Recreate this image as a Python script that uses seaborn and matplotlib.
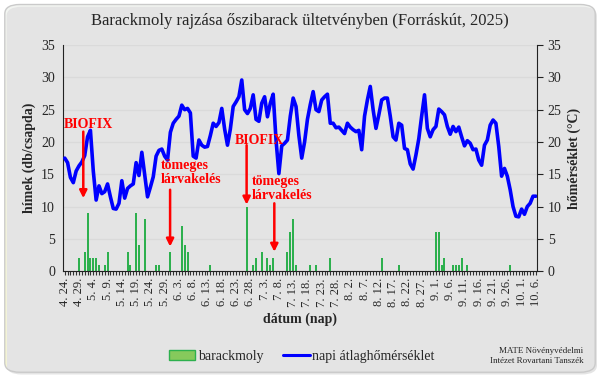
import numpy as np
import pandas as pd
import seaborn as sns
import matplotlib.pyplot as plt
from matplotlib.patches import FancyBboxPatch, Patch
from matplotlib.lines import Line2D

# days of the season, 2025.04.24 - 2025.10.06
dates = pd.date_range('2025-04-24', '2025-10-06', freq='D')
day_labels = [f'{d.month}. {d.day}.' for d in dates]

# trap catches (males / trap), only the days with a catch
catch_days = ['4.29', '5.1', '5.2', '5.3', '5.4', '5.5', '5.6', '5.8', '5.9',
              '5.16', '5.17', '5.19', '5.20', '5.22', '5.26', '5.27', '5.31',
              '6.4', '6.5', '6.6', '6.14', '6.27', '6.29', '6.30', '7.2', '7.4',
              '7.5', '7.6', '7.11', '7.12', '7.13', '7.14', '7.19', '7.21', '7.26',
              '8.13', '8.19', '9.1', '9.2', '9.3', '9.4', '9.7', '9.8', '9.9',
              '9.10', '9.12', '9.27']
catch_counts = [2, 3, 9, 2, 2, 2, 1, 1, 3,
                3, 1, 9, 4, 8, 1, 1, 3,
                7, 4, 3, 1, 10, 1, 2, 3, 2,
                1, 2, 3, 6, 8, 1, 1, 1, 2,
                2, 1, 6, 6, 1, 2, 1, 1, 1,
                2, 1, 1]

# daily mean temperature (°C)
temp = [17.5, 16.8, 14.5, 13.7, 15.5, 16.3, 16.9, 17.9, 20.8, 21.8,
        15.5, 11.0, 13.2, 12.0, 12.3, 13.5, 11.5, 9.7, 9.6, 10.5,
        14.0, 11.3, 12.8, 13.2, 13.5, 16.8, 14.8, 18.4, 15.0, 11.5,
        13.0, 14.6, 17.8, 18.7, 18.9, 17.8, 17.2, 21.5, 22.9, 23.5,
        24.0, 25.7, 25.0, 25.2, 24.5, 17.8, 17.5, 20.3, 19.5, 19.2,
        19.3, 21.0, 22.9, 22.4, 23.0, 25.2, 22.0, 19.5, 22.0, 25.5,
        26.2, 27.0, 29.6, 25.0, 24.4, 25.2, 27.3, 23.5, 23.2, 26.0,
        27.0, 23.9, 26.0, 27.4, 20.3, 15.1, 19.4, 19.8, 20.3, 24.0,
        26.8, 25.5, 21.0, 17.5, 20.0, 23.5, 25.8, 27.8, 25.0, 24.7,
        26.5, 27.0, 27.4, 22.9, 22.9, 22.2, 22.3, 21.8, 21.3, 22.9,
        22.3, 21.9, 21.6, 21.8, 18.8, 24.0, 26.5, 28.6, 25.0, 22.1,
        24.2, 26.5, 26.8, 26.8, 24.0, 20.8, 20.3, 22.9, 22.6, 19.0,
        18.8, 16.6, 15.8, 18.0, 20.5, 24.0, 27.3, 22.1, 20.8, 21.9,
        22.4, 25.1, 24.7, 24.2, 22.4, 21.2, 22.4, 21.6, 22.3, 20.8,
        19.4, 20.2, 19.8, 18.8, 18.9, 17.2, 16.4, 19.5, 20.3, 22.6,
        23.4, 22.9, 19.3, 14.7, 15.9, 14.7, 12.6, 10.0, 8.5, 8.4,
        9.6, 8.8, 10.0, 10.5, 11.6, 11.6]

key = [f'{d.month}.{d.day}' for d in dates]
counts = dict(zip(catch_days, catch_counts))
df = pd.DataFrame({'nap': day_labels,
                   'barackmoly': [counts.get(k, 0) for k in key],
                   'idx': np.arange(len(dates)),
                   'homerseklet': temp})

sns.set_style('ticks')
plt.rcParams['font.family'] = ['Liberation Serif', 'DejaVu Serif']

fig = plt.figure(figsize=(6, 3.76), dpi=100)

# background panel with gradient
bg = fig.add_axes([0, 0, 1, 1], zorder=0)
bg.set_xlim(0, 1); bg.set_ylim(0, 1); bg.axis('off')
top_c = np.array([0.95, 0.96, 0.95])
bot_c = np.array([1.0, 1.0, 0.80])
t = np.linspace(0, 1, 200)[:, None]
grad = (top_c * (1 - t) + bot_c * t)[:, None, :]
shadow = FancyBboxPatch((0.011, 0.004), 0.984, 0.978, boxstyle='round,pad=0,rounding_size=0.025',
                        transform=bg.transAxes, facecolor='#E4E4E4', edgecolor='none')
bg.add_patch(shadow)
im = bg.imshow(grad, extent=[0, 1, 0, 1], aspect='auto', origin='upper')
panel = FancyBboxPatch((0.008, 0.01), 0.984, 0.978, boxstyle='round,pad=0,rounding_size=0.025',
                       transform=bg.transAxes, facecolor='none', edgecolor='#CACACA', lw=1.0)
bg.add_patch(panel)
im.set_clip_path(panel)

ax = fig.add_axes([0.1055, 0.279, 0.79, 0.601], zorder=1)
ax.patch.set_alpha(0)
sns.barplot(data=df, x='nap', y='barackmoly', order=day_labels, color='#2DB04E',
            saturation=1, width=0.7, ax=ax, linewidth=0)
ax.set_xlim(-0.5, len(dates) - 0.5)
ax.set_ylim(0, 35)
ax.set_yticks(range(0, 36, 5))
ax.yaxis.grid(True, color='#DADADA', lw=1)
ax.set_axisbelow(True)
ax.set_xticks(range(0, len(dates), 5))
ax.set_xticklabels(day_labels[::5], rotation=90, fontsize=9)
ax.set_xticks(range(len(dates)), minor=True)
ax.tick_params(axis='x', which='both', length=3, width=0.8, color='#333333', pad=2)
ax.tick_params(axis='y', length=0, labelsize=10, pad=6)
ax.set_xlabel('dátum (nap)', fontsize=10, fontweight='bold', labelpad=4)
ax.set_ylabel('hímek (db/csapda)', fontsize=10, fontweight='bold', labelpad=4)
for s in ['top', 'right']:
    ax.spines[s].set_visible(False)
ax.spines['left'].set_color('#222222')
ax.spines['bottom'].set_color('#222222')

ax2 = ax.twinx()
sns.lineplot(data=df, x='idx', y='homerseklet', color='#0000FF', lw=2.6, ax=ax2)
ax2.set_ylim(0, 35)
ax2.set_yticks(range(0, 36, 5))
ax2.tick_params(axis='y', length=4, labelsize=10, color='#222222')
ax2.set_ylabel('hőmérséklet (°C)', fontsize=10, fontweight='bold', labelpad=4)
ax2.set_xlim(-0.5, len(dates) - 0.5)
for s in ['top', 'left', 'bottom']:
    ax2.spines[s].set_visible(False)
ax2.spines['right'].set_color('#222222')

# annotations
arrow = dict(arrowstyle='-|>', color='#FF0000', lw=1.8, mutation_scale=11, shrinkA=0, shrinkB=0)
txt = dict(color='#FF0000', fontsize=10, fontweight='bold', ha='left', va='center')
ax2.text(-0.3, 22.7, 'BIOFIX', **txt)
ax2.annotate('', xy=(6.5, 11.3), xytext=(6.5, 21.6), arrowprops=arrow)
ax2.text(59.6, 20.3, 'BIOFIX', **txt)
ax2.annotate('', xy=(63.7, 10.3), xytext=(63.7, 19.5), arrowprops=arrow)
ax2.text(33.7, 15.3, 'tömeges\nlárvakelés', linespacing=1.1, **txt)
ax2.annotate('', xy=(36.9, 3.8), xytext=(36.9, 12.6), arrowprops=arrow)
ax2.text(65.5, 12.8, 'tömeges\nlárvakelés', linespacing=1.1, **txt)
ax2.annotate('', xy=(73.4, 3.0), xytext=(73.4, 10.5), arrowprops=arrow)

fig.suptitle('Barackmoly rajzása őszibarack ültetvényben (Forráskút, 2025)',
             y=0.965, fontsize=12)

handles = [Patch(facecolor='#86C95C', edgecolor='#2DB04E', lw=1),
           Line2D([], [], color='#0000FF', lw=2.2)]
fig.legend(handles, ['barackmoly', 'napi átlaghőmérséklet'], loc='center',
           bbox_to_anchor=(0.503, 0.053), ncol=2, frameon=False, fontsize=10,
           handlelength=1.9, handletextpad=0.2, columnspacing=1.4)
fig.text(0.972, 0.053, 'MATE Növényvédelmi\nIntézet Rovartani Tanszék', ha='right',
         va='center', fontsize=6.5, linespacing=1.3)

fig.savefig('out.png', dpi=100)
